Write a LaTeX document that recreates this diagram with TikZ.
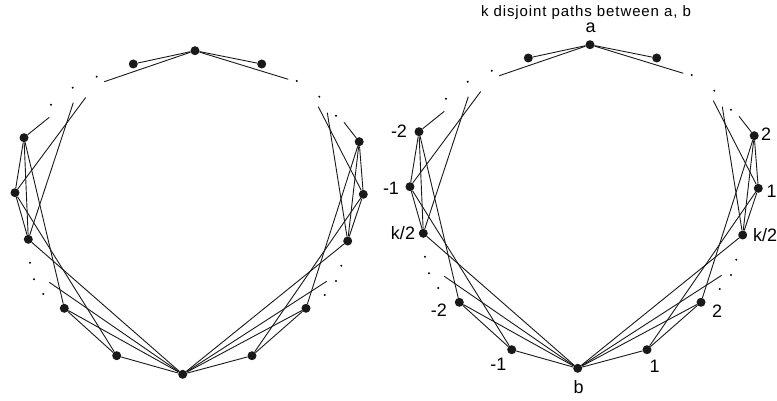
\documentclass[tikz,border=0pt]{standalone}
\usepackage{fontspec}
\setmainfont{Liberation Sans}
\newfontfamily\titlefont[LetterSpace=6]{Liberation Sans}
\begin{document}
\begin{tikzpicture}[x=1pt,y=-1pt,
  bigdot/.style={circle,fill=black!90,inner sep=0pt,minimum size=9pt},
  smalldot/.style={circle,fill=black,inner sep=0pt,minimum size=2.2pt},
  edge/.style={draw=black!90,line width=0.9pt},
  lbl/.style={anchor=base,inner sep=0pt,font=\fontsize{18}{21}\selectfont},
  ttl/.style={anchor=base,inner sep=0pt,font=\titlefont\fontsize{15}{18}\selectfont}]
\useasboundingbox (0,0) rectangle (777,401);
\newcommand\drawgraph[1]{%
  % main vertices
  \node[bigdot] (#1a)  at (195,50.7) {};
  \node[bigdot] (#1tl) at (133.3,64) {};
  \node[bigdot] (#1tr) at (261.7,64) {};
  \node[bigdot] (#1u2) at (24,137.7) {};
  \node[bigdot] (#1u1) at (15,192.7) {};
  \node[bigdot] (#1k)  at (28.3,239.3) {};
  \node[bigdot] (#1l2) at (64.3,308.3) {};
  \node[bigdot] (#1l1) at (116.7,355.7) {};
  \node[bigdot] (#1b)  at (182.7,374.3) {};
  \node[bigdot] (#1r2) at (359.2,141.7) {};
  \node[bigdot] (#1r1) at (363.3,194.3) {};
  \node[bigdot] (#1rk) at (347.7,241) {};
  \node[bigdot] (#1m2) at (306,308.3) {};
  \node[bigdot] (#1m1) at (252,355.7) {};
  % ellipsis dots
  \node[smalldot] (#1d1) at (96.7,76.7) {};
  \node[smalldot] (#1d2) at (72.7,87.7) {};
  \node[smalldot] (#1d3) at (51,104.7) {};
  \node[smalldot] (#1d4) at (296.7,81) {};
  \node[smalldot] (#1d5) at (319.3,96.7) {};
  \node[smalldot] (#1d6) at (336,115.7) {};
  \node[smalldot] (#1d7) at (30,262.7) {};
  \node[smalldot] (#1d8) at (34,279.3) {};
  \node[smalldot] (#1d9) at (43.3,294) {};
  \node[smalldot] (#1d10) at (341.3,265.7) {};
  \node[smalldot] (#1d11) at (336,281) {};
  \node[smalldot] (#1d12) at (324.7,295) {};
  % free ends
  \coordinate (#1fa1) at (104.3,81.7);
  \coordinate (#1fa2) at (288.3,79.3);
  \coordinate (#1fu2) at (49.3,117.3);
  \coordinate (#1fu1) at (85.7,97.5);
  \coordinate (#1fk)  at (73.3,102.7);
  \coordinate (#1fb)  at (49.3,282.3);
  \coordinate (#1fr2) at (344,122.3);
  \coordinate (#1fr1) at (318.3,106.7);
  \coordinate (#1frk) at (327.3,112.7);
  \coordinate (#1fbr) at (326.7,281.3);
  % edges
  \draw[edge] (#1a) -- (#1tl);
  \draw[edge] (#1a) -- (#1tr);
  \draw[edge] (#1a) -- (#1fa1);
  \draw[edge] (#1a) -- (#1fa2);
  \draw[edge] (#1u2) -- (#1fu2);
  \draw[edge] (#1u2) -- (#1u1);
  \draw[edge] (#1u2) -- (#1k);
  \draw[edge] (#1u2) -- (#1l2);
  \draw[edge] (#1u1) -- (#1fu1);
  \draw[edge] (#1u1) -- (#1k);
  \draw[edge] (#1u1) -- (#1l1);
  \draw[edge] (#1k) -- (#1fk);
  \draw[edge] (#1k) -- (#1b);
  \draw[edge] (#1fb) -- (#1b);
  \draw[edge] (#1l2) -- (#1l1);
  \draw[edge] (#1l2) -- (#1b);
  \draw[edge] (#1l1) -- (#1b);
  \draw[edge] (#1r2) -- (#1fr2);
  \draw[edge] (#1r2) -- (#1r1);
  \draw[edge] (#1r2) -- (#1rk);
  \draw[edge] (#1r2) -- (#1m2);
  \draw[edge] (#1r1) -- (#1fr1);
  \draw[edge] (#1r1) -- (#1rk);
  \draw[edge] (#1r1) -- (#1m1);
  \draw[edge] (#1rk) -- (#1frk);
  \draw[edge] (#1rk) -- (#1b);
  \draw[edge] (#1fbr) -- (#1b);
  \draw[edge] (#1m2) -- (#1m1);
  \draw[edge] (#1m2) -- (#1b);
  \draw[edge] (#1m1) -- (#1b);
}
\drawgraph{L}
\begin{scope}[shift={(395,-6)}]
\drawgraph{R}
\end{scope}
% labels of the right graph
\node[ttl] (title) at (586,16.5) {k disjoint paths between a, b};
\node[lbl] (la) at (590.5,32.5) {a};
\node[lbl] (lb) at (578.7,393.5) {b};
\node[lbl] (lu2) at (399,137.5) {-2};
\node[lbl] (lu1) at (391,194) {-1};
\node[lbl] (lk) at (403,240) {k/2};
\node[lbl] (ll2) at (438.8,316.7) {-2};
\node[lbl] (ll1) at (498.3,370) {-1};
\node[lbl] (lm1) at (654.5,372.3) {1};
\node[lbl] (lm2) at (717,317.3) {2};
\node[lbl] (lr2) at (766,140.5) {2};
\node[lbl] (lr1) at (771.5,197) {1};
\node[lbl,anchor=base west] (lrk) at (753,241) {k/2};
\end{tikzpicture}
\end{document}
